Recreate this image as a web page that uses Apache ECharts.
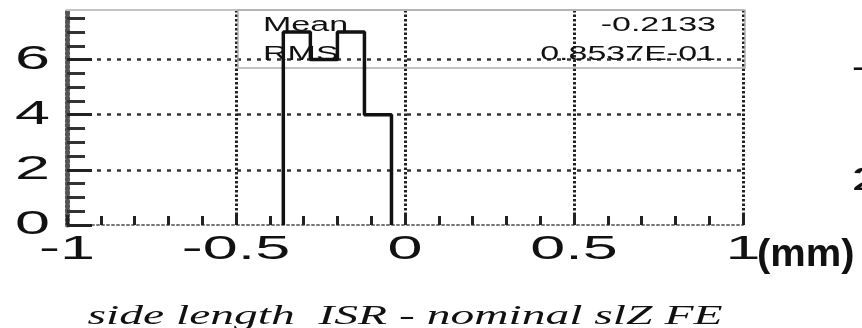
<!DOCTYPE html>
<html><head><meta charset="utf-8">
<script src="https://cdn.jsdelivr.net/npm/echarts@6/dist/echarts.min.js"></script>
<style>html,body{margin:0;padding:0;background:#fff}#c{width:862px;height:328px}</style>
</head><body><div id="c"></div>
<script>
// ---- data ----
const binLow = -0.36;
const binWidth = 0.04;
const counts = [7, 7, 6, 6, 7, 7, 4, 4];
const xTickValues = [-1, -0.5, 0, 0.5, 1];
const xTickLabels = ['-1', '-0.5', '0', '0.5', '1'];
const yTickValues = [0, 2, 4, 6];
const yTickLabels = ['0', '2', '4', '6'];
const yMinorTickValues = [0.5, 1, 1.5, 2.5, 3, 3.5, 4.5, 5, 5.5, 6.5, 7, 7.5];
const statNames = ['Mean', 'RMS'];
const statValues = ['-0.2133', '0.8537E-01'];
const xTitle = 'side length  ISR - nominal slZ FE';
const unitLabel = '(mm)';
const xMin = -1, xMax = 1, yMin = 0, yMax = 7.8;

// histogram outline points (step)
const histData = [[binLow, 0]];
counts.forEach((c, i) => histData.push([+(binLow + i * binWidth).toFixed(4), c]));
histData.push([+(binLow + counts.length * binWidth).toFixed(4), 0]);

const chart = echarts.init(document.getElementById('c'), null, {renderer: 'canvas'});
const option = {
  animation: false,
  backgroundColor: '#ffffff',
  grid: {left: 67, right: 119, top: 10, bottom: 103, containLabel: false},
  xAxis: [{
    type: 'value', min: xMin, max: xMax, interval: 0.5, position: 'bottom',
    axisLine: {show: true, onZero: false, lineStyle: {color: '#777', width: 2, type: [2, 3]}},
    axisTick: {show: true, inside: true, length: 10, lineStyle: {color: '#222', width: 3}},
    minorTick: {show: true, splitNumber: 5, length: 9, lineStyle: {color: '#222', width: 3}},
    axisLabel: {show: false},
    splitLine: {show: true, lineStyle: {color: '#222', width: 3, type: [2.5, 2]}},
    minorSplitLine: {show: false}
  }, {
    type: 'value', min: xMin, max: xMax, position: 'top',
    axisLine: {show: true, onZero: false, lineStyle: {color: '#c4c4c4', width: 2}},
    axisTick: {show: false}, axisLabel: {show: false}, splitLine: {show: false}
  }],
  yAxis: [{
    type: 'value', min: yMin, max: yMax, interval: 2, position: 'left',
    axisLine: {show: true, onZero: false, lineStyle: {color: '#555', width: 5, type: [1.5, 3]}},
    axisTick: {show: true, inside: true, length: 25, customValues: yTickValues, lineStyle: {color: '#222', width: 3}},
    axisLabel: {show: false},
    splitLine: {show: true, showMinLine: false, showMaxLine: true, lineStyle: {color: '#333', width: 2.5, type: [4, 6]}}
  }, {
    type: 'value', min: yMin, max: yMax, position: 'left',
    axisLine: {show: false, onZero: false},
    axisTick: {show: true, inside: true, length: 18, customValues: yMinorTickValues, lineStyle: {color: '#333', width: 3}},
    axisLabel: {show: false}, splitLine: {show: false}
  }],
  series: [{
    type: 'line', xAxisIndex: 0, yAxisIndex: 0, step: 'end',
    data: histData, symbol: 'none', showSymbol: false, silent: true, z: 5,
    lineStyle: {color: '#111', width: 3.5}
  }]
};
chart.setOption(option);

function textEl(text, x, y, align, font, sx, z) {
  return {
    type: 'text', x: x, y: y, scaleX: sx, z: z || 10, silent: true,
    style: {text: text, x: 0, y: 0, fill: '#111', font: font,
            textAlign: align, verticalAlign: 'middle', textVerticalAlign: 'middle'}
  };
}
const els = [];
const tickFont = '34px "Liberation Sans", Arial, sans-serif';
xTickValues.forEach((v, i) => {
  const p = chart.convertToPixel({xAxisIndex: 0, yAxisIndex: 0}, [v, 0]);
  els.push(textEl(xTickLabels[i], p[0], p[1] + 25, 'center', tickFont, 1.85));
});
yTickValues.forEach((v, i) => {
  const p = chart.convertToPixel({xAxisIndex: 0, yAxisIndex: 0}, [xMin, v]);
  els.push(textEl(yTickLabels[i], p[0] - 17, p[1], 'right', tickFont, 1.85));
});
// stats box
els.push({type: 'rect', z: 1, silent: true, shape: {x: 238, y: 10, width: 507, height: 58},
  style: {fill: 'none', stroke: '#b0b0b0', lineWidth: 1.5}});
const statFont = '20px "Liberation Sans", Arial, sans-serif';
statNames.forEach((n, i) => {
  els.push(textEl(n, 263, 25 + i * 29, 'left', statFont, 1.7, 2));
  els.push(textEl(statValues[i], 716, 25 + i * 29, 'right', statFont, 1.7, 2));
});
// axis title and unit
els.push(textEl(xTitle, 405, 317, 'center', 'italic 27px "Liberation Serif", "Times New Roman", serif', 1.76));
els.push(textEl(unitLabel, 757, 256, 'left', 'bold 38px "Liberation Sans", Arial, sans-serif', 1.05));
// fragments of neighbouring panel at the right edge
els.push(textEl('-', 851, 69, 'left', tickFont, 1.85));
els.push(textEl('2', 851, 181, 'left', tickFont, 1.85));
chart.setOption({graphic: els});
</script></body></html>
